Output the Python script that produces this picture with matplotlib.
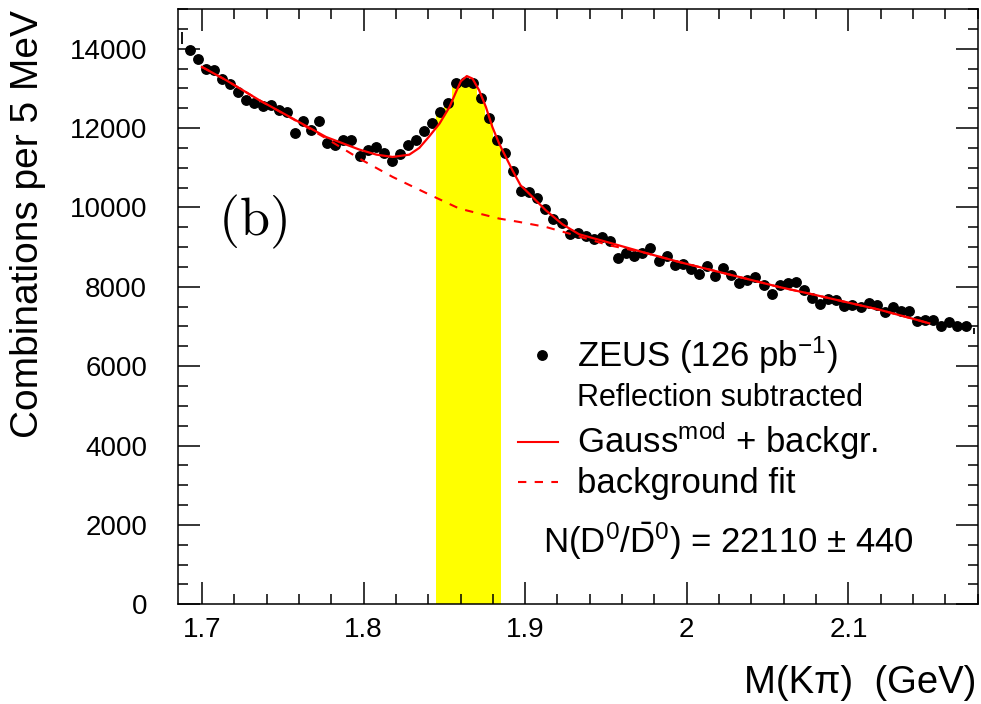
import numpy as np
import matplotlib
matplotlib.use('Agg')
import matplotlib.pyplot as plt
from matplotlib.lines import Line2D
from matplotlib.ticker import MultipleLocator

### data ###

# bin centres start at 1.6925 GeV, 5 MeV bins
bin_first = 1.6925
bin_width = 0.005
counts = [13958, 13732, 13480, 13472, 13246, 13120, 12909, 12717, 12632, 12549,
          12582, 12465, 12415, 11876, 12178, 11962, 12178, 11634, 11566, 11692,
          11710, 11307, 11440, 11524, 11382, 11163, 11340, 11574, 11692, 11915,
          12137, 12394, 12628, 13135, 13153, 13135, 12758, 12264, 11692, 11380,
          10928, 10408, 10391, 10249, 9955, 9720, 9610, 9343, 9358, 9292,
          9207, 9257, 9156, 8738, 8854, 8771, 8864, 8972, 8645, 8771,
          8562, 8587, 8461, 8335, 8519, 8268, 8486, 8285, 8099, 8184,
          8235, 8058, 7814, 8041, 8099, 8116, 7932, 7713, 7555, 7696,
          7671, 7512, 7529, 7494, 7595, 7545, 7361, 7479, 7378, 7378,
          7142, 7159, 7159, 7008, 7109, 7008, 7008]

# edge bins: only the error bar is visible
edge_mass = [1.6875, 2.1775]
edge_counts = [14270, 6895]
edge_err = [140, 75]

# signal window (yellow)
window = [1.845, 1.885]

# Gauss^mod + background fit
fit_mass = [1.7000, 1.7151, 1.7356, 1.7562, 1.7768, 1.7974, 1.8080, 1.8180,
            1.8283, 1.8345, 1.8407, 1.8470, 1.8532, 1.8571, 1.8602, 1.8639,
            1.8674, 1.8715, 1.8757, 1.8797, 1.8839, 1.8880, 1.8921, 1.8971,
            1.9024, 1.9127, 1.9230, 1.9333, 1.9539, 1.9745, 1.9950, 2.0156,
            2.0363, 2.0568, 2.0774, 2.0980, 2.1186, 2.1392, 2.1500]
fit_val = [13540, 13203, 12700, 12239, 11775, 11458, 11330, 11272,
           11330, 11500, 11793, 12113, 12531, 12900, 13180, 13310,
           13246, 12952, 12531, 12027, 11609, 11272, 10937, 10560,
           10350, 9930, 9577, 9325, 9091, 8854, 8628, 8418,
           8209, 7998, 7814, 7620, 7429, 7202, 7080]

# background only
bkg_mass = [1.7000, 1.7151, 1.7356, 1.7562, 1.7768, 1.7974, 1.8180, 1.8386,
            1.8592, 1.8715, 1.8838, 1.8962, 1.9127, 1.9271, 1.9518, 1.9745,
            1.9950, 2.0156, 2.0363, 2.0568, 2.0774, 2.0980, 2.1186, 2.1392,
            2.1500]
bkg_val = [13540, 13203, 12700, 12230, 11740, 11231, 10768, 10365,
           9972, 9846, 9720, 9635, 9509, 9343, 9048, 8854,
           8628, 8418, 8209, 7998, 7814, 7620, 7429, 7202,
           7080]

xticks = [1.7, 1.8, 1.9, 2.0, 2.1]
xticklabels = ['1.7', '1.8', '1.9', '2', '2.1']

### figure ###

plt.rcParams['font.family'] = ['Liberation Sans', 'DejaVu Sans']
plt.rcParams['mathtext.fontset'] = 'custom'
plt.rcParams['mathtext.rm'] = 'Liberation Sans'
plt.rcParams['mathtext.it'] = 'Liberation Sans:italic'
plt.rcParams['mathtext.bf'] = 'Liberation Sans:bold'

W, H = 981, 704


def fpos(x, y):
    # pixel position -> figure fraction
    return x / W, 1 - y / H


fig = plt.figure(figsize=(W / 100, H / 100), dpi=100)
ax = fig.add_axes([177.7 / W, 1 - 604.3 / H, 800 / W, 595.3 / H])

mass = bin_first + bin_width * np.arange(len(counts))
counts = np.array(counts)
sig = (mass > window[0]) & (mass < window[1])

ax.bar(mass[sig], counts[sig], width=bin_width, color='#ffff00', linewidth=0, zorder=1)
ax.plot(mass, counts, 'o', color='k', ms=6.8, zorder=3)
ax.errorbar(edge_mass, edge_counts, yerr=edge_err, fmt='none', ecolor='k',
            elinewidth=1.3, zorder=3)
ax.plot(bkg_mass, bkg_val, color='red', lw=1.5, ls=(0, (4, 4)), zorder=4)
ax.plot(fit_mass, fit_val, color='red', lw=1.6, zorder=5)

ax.set_xlim(1.685, 2.18)
ax.set_ylim(0, 15000)
ax.set_xticks(xticks)
ax.set_xticklabels(xticklabels)
ax.xaxis.set_minor_locator(MultipleLocator(0.02))
ax.yaxis.set_major_locator(MultipleLocator(2000))
ax.yaxis.set_minor_locator(MultipleLocator(500))
ax.tick_params(which='both', direction='in', top=True, right=True, width=1.1,
               labelsize=20)
ax.tick_params(which='major', length=15.5)
ax.tick_params(which='minor', length=7.5)
ax.tick_params(axis='y', pad=22)
ax.tick_params(axis='x', pad=9)
for s in ax.spines.values():
    s.set_linewidth(1.1)

# axis titles
fig.text(*fpos(28, 10), 'Combinations per 5 MeV', rotation=90, ha='center',
         va='top', fontsize=28)
fig.text(*fpos(976, 693), u'M(K\u03c0)  (GeV)', ha='right', va='baseline',
         fontsize=27.5)

# panel tag
fig.text(*fpos(252, 222), r'$\mathrm{(b)}$', ha='center', va='center',
         fontsize=39, math_fontfamily='cm')

# legend
fig.add_artist(Line2D([541.7 / W], [1 - 355 / H], marker='o', color='k', ms=6.8,
                      transform=fig.transFigure))
fig.add_artist(Line2D([518 / W, 558 / W], [1 - 442.3 / H] * 2, color='red',
                      lw=1.5, transform=fig.transFigure))
fig.add_artist(Line2D([518 / W, 558 / W], [1 - 481.7 / H] * 2, color='red',
                      lw=1.5, ls=(0, (4, 4)), transform=fig.transFigure))
fig.text(*fpos(576.7, 366.7), r'ZEUS (126 pb$^{-1}$)', va='baseline', fontsize=25)
fig.text(*fpos(576.7, 406), 'Reflection subtracted', va='baseline', fontsize=22)
fig.text(*fpos(576.7, 453), r'Gauss$^{\mathrm{mod}}$ + backgr.', va='baseline',
         fontsize=25)
fig.text(*fpos(576.7, 492.7), 'background fit', va='baseline', fontsize=25)
fig.text(*fpos(543.3, 553.3), r'N(D$^0$/$\bar{\mathrm{D}}^0$) = 22110 $\pm$ 440',
         va='baseline', fontsize=25)

fig.savefig('out.png', dpi=100)
